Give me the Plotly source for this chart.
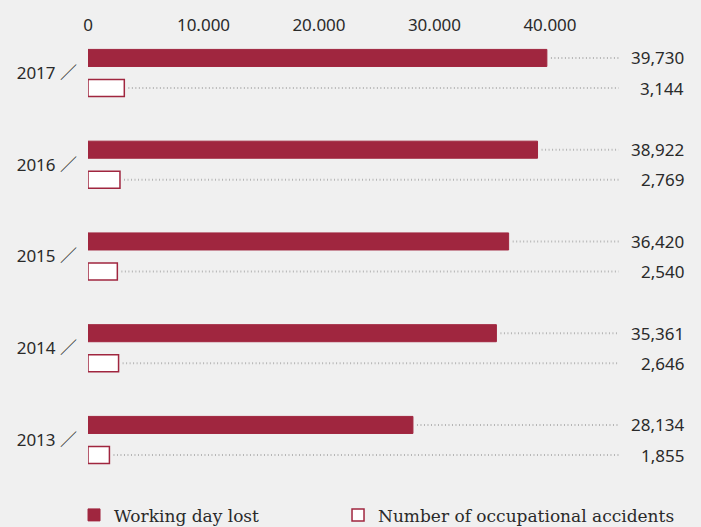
import plotly.graph_objects as go

years = [2013, 2014, 2015, 2016, 2017]
working_days_lost = [28134, 35361, 36420, 38922, 39730]
accidents = [1855, 2646, 2540, 2769, 3144]
x_ticks = [0, 10000, 20000, 30000, 40000]
x_tick_labels = ["0", "10.000", "20.000", "30.000", "40.000"]
year_labels = [f"{y} ／" for y in years]

RED = "#a0263f"
DOT = "#b4b4b4"
TXT = "#2a2a2a"
BG = "#f0f0f0"

W = 0.186      # bar thickness (year units)
D = 0.164      # offset of each bar from year centre
GAP = 350      # gap between bar end and dotted line
DOT_END = 45950
LABEL_X = 51740

fig = go.Figure()

fig.add_trace(go.Bar(
    name="Working day lost", orientation="h",
    y=years, x=working_days_lost, width=W, offset=D - W / 2,
    marker=dict(color=RED, line=dict(color=RED, width=1)),
    hoverinfo="x", legend="legend",
))
fig.add_trace(go.Bar(
    name="Number of occupational accidents", orientation="h",
    y=years, x=accidents, width=W, offset=-D - W / 2,
    marker=dict(color="white", line=dict(color=RED, width=1.5)),
    hoverinfo="x", legend="legend2",
))

for yr, v in zip(years, working_days_lost):
    fig.add_trace(go.Scatter(
        x=[v + GAP, DOT_END], y=[yr + D, yr + D], mode="lines",
        line=dict(color=DOT, width=2, dash="1px,2.5px"),
        showlegend=False, hoverinfo="skip",
    ))
    fig.add_annotation(x=LABEL_X, y=yr + D, text=f"{v:,}", showarrow=False,
                       xanchor="right", yanchor="middle",
                       font=dict(size=17, color=TXT))
for yr, v in zip(years, accidents):
    fig.add_trace(go.Scatter(
        x=[v + GAP, DOT_END], y=[yr - D, yr - D], mode="lines",
        line=dict(color=DOT, width=2, dash="1px,2.5px"),
        showlegend=False, hoverinfo="skip",
    ))
    fig.add_annotation(x=LABEL_X, y=yr - D, text=f"{v:,}", showarrow=False,
                       xanchor="right", yanchor="middle",
                       font=dict(size=17, color=TXT))

legend_common = dict(
    orientation="h", yanchor="top", y=-0.039,
    bgcolor="rgba(0,0,0,0)",
    font=dict(family="DejaVu Serif, serif", size=17, color=TXT),
)

fig.update_layout(
    width=701, height=527,
    margin=dict(l=88, r=13, t=35, b=47, autoexpand=False),
    paper_bgcolor=BG, plot_bgcolor=BG,
    barmode="overlay",
    font=dict(family="Noto Sans, 'Noto Sans CJK JP', sans-serif", color=TXT, size=17),
    xaxis=dict(
        range=[0, 51950], side="top", showgrid=False, zeroline=False,
        showline=False, tickvals=x_ticks, ticktext=x_tick_labels,
        ticks="", tickfont=dict(size=17, color=TXT), fixedrange=True,
    ),
    yaxis=dict(
        range=[2012.564, 2017.414], showgrid=False, zeroline=False,
        showline=False, tickvals=years, ticktext=year_labels,
        ticks="", ticklabelstandoff=10, tickfont=dict(size=17, color=TXT),
        fixedrange=True,
    ),
    legend=dict(x=-0.0233, xanchor="left", **legend_common),
    legend2=dict(x=0.4167, xanchor="left", **legend_common),
    showlegend=True,
)

fig.write_html(
    "out.html",
    config={"displayModeBar": False},
    post_script="document.body.style.margin='0';document.body.style.background='#f0f0f0';",
)
